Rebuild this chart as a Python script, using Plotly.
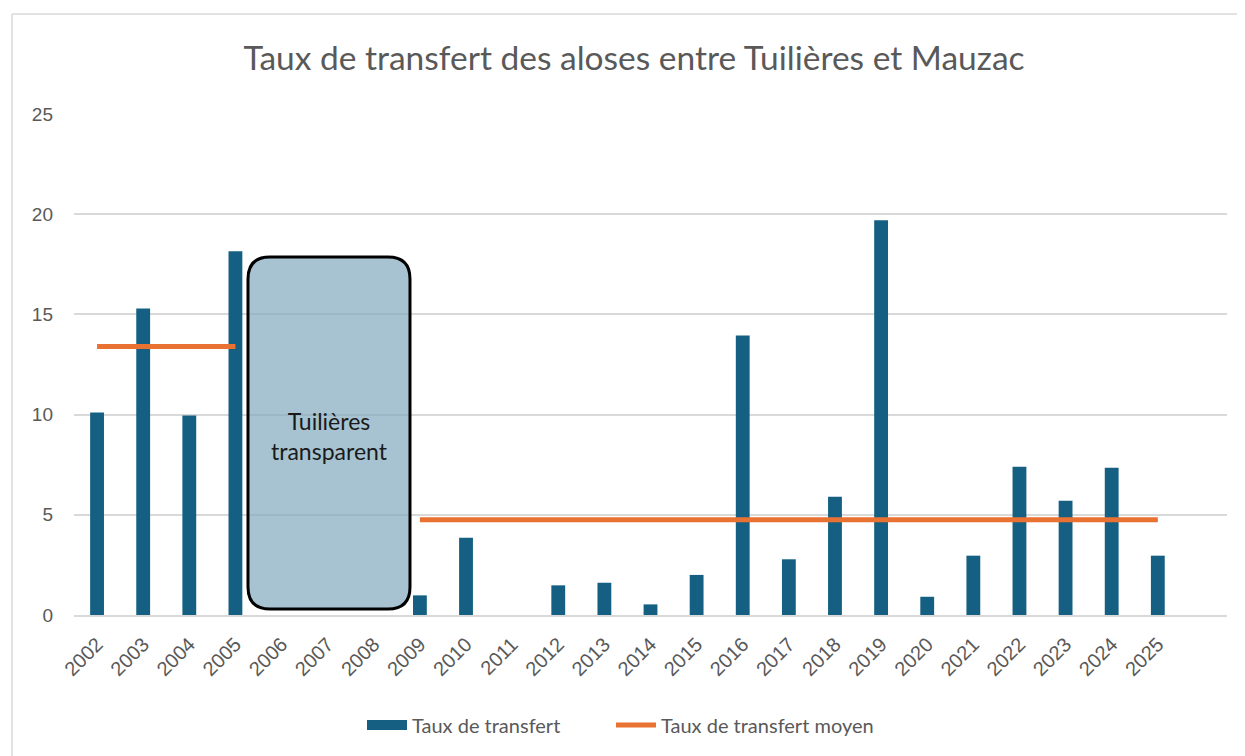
import plotly.graph_objects as go

years = [str(y) for y in range(2002, 2026)]
taux = [10.1, 15.3, 9.95, 18.15, None, None, None, 0.98, 3.86, 0, 1.48, 1.61, 0.53,
        2.0, 13.95, 2.78, 5.9, 19.7, 0.91, 2.96, 7.4, 5.7, 7.35, 2.96]
moyen = [13.4, 13.4, 13.4, 13.4, None, None, None] + [4.75] * 17

OFF = 8  # default page margin of the browser body
W, H = 1245 - OFF, 756 - OFF
L, R, T = 74 - OFF, 18, 114 - OFF
B = H - (615 - OFF)
pw, ph = W - L - R, H - T - B

def px(x):  # screen x -> paper
    return (x - OFF - L) / pw

def py(y):  # screen y -> paper
    return (H - B - (y - OFF)) / ph

BLUE, ORANGE = "#156082", "#E97132"

fig = go.Figure()
fig.add_trace(go.Bar(x=years, y=taux, name="Taux de transfert", showlegend=False,
                     marker=dict(color=BLUE, line=dict(width=0)), width=0.3))
# legend entry drawn as a wide block, like the reference swatch
fig.add_trace(go.Scatter(x=[None], y=[None], name="Taux de transfert", mode="lines",
                         line=dict(color=BLUE, width=13), legend="legend"))
fig.add_trace(go.Scatter(x=years, y=moyen, name="Taux de transfert moyen", mode="lines",
                         line=dict(color=ORANGE, width=5), connectgaps=False, legend="legend2"))

# rounded rectangle (paper coords)
bx0, bx1, by0, by1, r = 248, 410, 257, 609, 22
def P(x, y):
    return f"{px(x):.5f},{py(y):.5f}"
path = (f"M {P(bx0 + r, by0)} L {P(bx1 - r, by0)} Q {P(bx1, by0)} {P(bx1, by0 + r)} "
        f"L {P(bx1, by1 - r)} Q {P(bx1, by1)} {P(bx1 - r, by1)} "
        f"L {P(bx0 + r, by1)} Q {P(bx0, by1)} {P(bx0, by1 - r)} "
        f"L {P(bx0, by0 + r)} Q {P(bx0, by0)} {P(bx0 + r, by0)} Z")
fig.add_shape(type="path", path=path, xref="paper", yref="paper",
              fillcolor="rgba(130,170,190,0.7)", line=dict(color="black", width=3), layer="above")
fig.add_annotation(x=px(329), y=py(436), xref="paper", yref="paper",
                   xanchor="center", yanchor="middle",
                   text="Tuilières<br>transparent", showarrow=False,
                   font=dict(family="Lato", size=23, color="#1a1a1a"))
# chart frame (top and left edges)
fig.add_shape(type="line", xref="paper", yref="paper",
              x0=px(12), x1=px(1245), y0=py(14), y1=py(14),
              line=dict(color="#d9d9d9", width=1.5), layer="below")
fig.add_shape(type="line", xref="paper", yref="paper",
              x0=px(12), x1=px(12), y0=py(14), y1=py(756),
              line=dict(color="#d9d9d9", width=1.5), layer="below")

leg_common = dict(orientation="h", xanchor="left", y=py(725), yanchor="middle",
                  font=dict(size=20, color="#595959"), itemwidth=40,
                  bgcolor="rgba(0,0,0,0)")
fig.update_layout(
    width=W, height=H,
    margin=dict(l=L, r=R, t=T, b=B),
    paper_bgcolor="white", plot_bgcolor="white",
    title=dict(text="Taux de transfert des aloses entre Tuilières et Mauzac",
               xref="paper", x=px(634), xanchor="center", y=1 - (58 - OFF) / H, yanchor="middle",
               font=dict(family="Lato", size=33.5, color="#595959")),
    font=dict(family="Lato", color="#595959"),
    showlegend=True,
    legend=dict(x=px(362), **leg_common),
    legend2=dict(x=px(611), **leg_common),
    bargap=0.7,
)
fig.update_xaxes(type="category", range=[-0.5, 24.5], tickangle=-45,
                 tickfont=dict(family="Liberation Sans", size=20, color="#595959"), showgrid=False,
                 showline=True, linecolor="#d9d9d9", linewidth=1.5, ticks="",
                 ticklabelstandoff=8)
fig.update_yaxes(range=[0, 25], dtick=5, showgrid=True, gridcolor="#d9d9d9", gridwidth=1.5,
                 zeroline=False, tickfont=dict(family="Liberation Sans", size=19, color="#595959"),
                 ticks="", ticklabelstandoff=20)

fig.write_html("out.html")
